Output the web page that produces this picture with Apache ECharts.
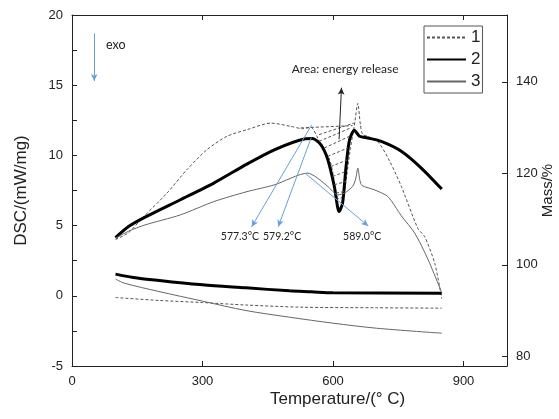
<!DOCTYPE html>
<html><head><meta charset="utf-8">
<script src="https://cdn.jsdelivr.net/npm/echarts@6/dist/echarts.min.js"></script>
<style>html,body{margin:0;padding:0;background:#fff}#c{width:559px;height:419px}</style>
</head><body><div id="c"></div>
<script>
// ---- data (temperature °C, value) ----
const seriesNames = ['1', '2', '3'];
const dsc1 = [[100,4.0],[130,4.5],[165,5.64],[218,7.3],[264,8.98],[310,10.4],[356,11.36],[403,11.84],[457,12.3],[503,12.07],[530,11.9],[549,12.0],[565,11.24],[576,10.5],[591,9.8],[600,8.7],[607,7.3],[613,6.9],[620,7.0],[626,7.4],[640,10.5],[649,12.1],[657,13.7],[663,12.2],[668,11.5],[680,11.36],[705,10.9],[730,9.6],[757,7.8],[795,4.8],[811,4.2],[834,2.3],[850,-0.2]];
const dsc2 = [[100,4.14],[130,4.93],[168,5.6],[249,6.84],[326,8.03],[403,9.4],[465,10.4],[534,11.17],[553,11.2],[572,10.76],[588,9.7],[603,7.8],[614,6.0],[622,6.6],[630,9.2],[638,11.1],[649,11.8],[661,11.36],[680,11.24],[711,11.0],[757,10.3],[803,9.1],[850,7.6]];
const dsc3 = [[100,4.1],[130,4.6],[168,5.05],[249,5.76],[326,6.71],[400,7.4],[465,7.9],[542,8.74],[561,8.46],[588,7.79],[611,7.19],[626,7.31],[645,7.79],[652,8.3],[657,9.1],[662,8.2],[667,7.85],[695,7.55],[726,7.07],[757,5.7],[788,4.46],[819,2.55],[849,0.29]];
const mass1 = [[100,92.84],[200,92.2],[300,91.74],[400,91.2],[526,90.73],[700,90.6],[850,90.51]];
const mass2 = [[100,97.96],[150,97.09],[200,96.56],[300,95.62],[400,94.96],[500,94.30],[550,94.09],[600,93.87],[850,93.8]];
const mass3 = [[100,96.87],[120,95.99],[200,94.15],[300,92.05],[400,89.99],[500,88.54],[600,87.23],[700,86.13],[850,85.04]];
// hatch lines of the energy-release area (start, end)
const hatchLines = [
  [[526,11.96],[645,12.12]],[[568,11.48],[649,12.31]],[[568,11.0],[641,11.96]],[[580,10.53],[638,11.36]],
  [[588,9.93],[634,10.53]],[[595,9.21],[634,9.69]],[[599,8.5],[630,8.86]],[[603,7.91],[630,8.14]],[[607,7.31],[626,7.43]]
];
// peak annotation arrows (from, to) and labels
const peakArrows = [[[551,12.17],[413,4.92]],[[550,11.27],[474,4.92]],[[536,8.73],[681,4.97]],[[51,18.7],[51,15.3]]];
const peakLabels = [[386,'577.3°C'],[483,'579.2°C'],[667,'589.0°C']];
const peakLabelY = 4.2;
const areaArrow = [[614,11.15],[619.5,14.82]];
const areaText = [628,16.15,'Area: energy release'];
const exoText = [78,17.86,'exo'];
const xTicks = [0,300,600,900];
const yLeftTicks = [-5,0,5,10,15,20];
const yRightTicks = [80,100,120,140];

const fam = 'Liberation Sans, Arial, sans-serif';
const tickFont = {color:'#222', fontSize:13, fontFamily:fam};
const blue = '#6a9fd8';

const chart = echarts.init(document.getElementById('c'), null, {renderer:'canvas'});
const axisLine = {show:true, onZero:false, lineStyle:{color:'#222', width:1}};
chart.setOption({
  animation:false,
  backgroundColor:'#fff',
  grid:{left:72, right:52, top:15, bottom:53, containLabel:false, outerBoundsMode:'none'},
  legend:{
    data:seriesNames, orient:'vertical', left:424, top:26, padding:[3,2,3,2],
    itemWidth:39, itemHeight:14, itemGap:5, borderColor:'#555', borderWidth:1,
    itemStyle:{color:'rgba(0,0,0,0)', borderWidth:0, opacity:0},
    textStyle:{fontSize:17, color:'#222', fontFamily:fam, lineHeight:16}
  },
  xAxis:[
    {type:'value', min:0, max:1000, position:'bottom', axisLine,
     axisTick:{show:true, inside:true, length:5, customValues:xTicks.slice(1), lineStyle:{color:'#222'}},
     axisLabel:{customValues:xTicks, margin:9, ...tickFont}, splitLine:{show:false}},
    {type:'value', min:0, max:1000, position:'top', axisLine,
     axisTick:{show:true, inside:true, length:5, customValues:xTicks.slice(1), lineStyle:{color:'#222'}},
     axisLabel:{show:false}, splitLine:{show:false}}
  ],
  yAxis:[
    {type:'value', min:-5, max:20, interval:5, position:'left', axisLine,
     name:'DSC/(mW/mg)', nameLocation:'middle', nameRotate:90, nameGap:42,
     nameTextStyle:{fontSize:17, color:'#222', fontFamily:fam},
     axisTick:{show:true, inside:true, length:5, lineStyle:{color:'#222'}},
     minorTick:{show:true, splitNumber:2, length:5, lineStyle:{color:'#222'}},
     axisLabel:{margin:9, ...tickFont, customValues:yLeftTicks}, splitLine:{show:false}},
    {type:'value', min:77.87, max:154.6, position:'right', axisLine,
     name:'Mass/%', nameLocation:'middle', nameRotate:90, nameGap:33, nameMoveOverlap:false,
     nameTextStyle:{fontSize:15, color:'#222', fontFamily:fam},
     axisTick:{show:true, inside:true, length:5, customValues:yRightTicks, lineStyle:{color:'#222'}},
     axisLabel:{margin:9, ...tickFont, customValues:yRightTicks}, splitLine:{show:false}}
  ],
  graphic:[{type:'text', left:270, top:391, style:{text:'Temperature/(° C)', fill:'#222', font:'17px Liberation Sans, Arial, sans-serif'}}],
  series:[
    {name:'1', type:'line', data:dsc1, symbol:'none', smooth:0.25, lineStyle:{color:'#555', width:1, type:[3,2]}, itemStyle:{color:'#555'},
     markLine:{silent:true, symbol:['none','none'], label:{show:false}, lineStyle:{color:'#555', width:1, type:[3,2]},
       data:hatchLines.map(s=>[{coord:s[0]},{coord:s[1]}])}},
    {name:'2', type:'line', data:dsc2, symbol:'none', smooth:0.25, lineStyle:{color:'#000', width:3}, itemStyle:{color:'#000'},
     markLine:{silent:true, symbol:['none','arrow'], symbolSize:[5,7], label:{show:false}, lineStyle:{color:blue, width:1, type:'solid'},
       data:peakArrows.map(s=>[{coord:s[0]},{coord:s[1]}])},
     markPoint:{silent:true, symbol:'circle', symbolSize:0,
       label:{show:true, color:'#222', fontSize:10.5, fontFamily:'Lato, Open Sans, sans-serif', formatter:p=>p.name},
       data:peakLabels.map(l=>({name:l[1], coord:[l[0],peakLabelY]}))
         .concat([{name:areaText[2], coord:[areaText[0],areaText[1]], label:{fontSize:12}},
                  {name:exoText[2], coord:[exoText[0],exoText[1]], label:{fontSize:12.5, align:'left'}}])}},
    {name:'3', type:'line', data:dsc3, symbol:'none', smooth:0.25, lineStyle:{color:'#666', width:1}, itemStyle:{color:'#666'},
     markLine:{silent:true, symbol:['none','arrow'], symbolSize:[5,7], label:{show:false}, lineStyle:{color:'#222', width:1, type:'solid'},
       data:[[{coord:areaArrow[0]},{coord:areaArrow[1]}]]}},
    {name:'1', type:'line', yAxisIndex:1, data:mass1, symbol:'none', smooth:0.3, lineStyle:{color:'#555', width:1, type:[3,2]}},
    {name:'2', type:'line', yAxisIndex:1, data:mass2, symbol:'none', smooth:0.3, lineStyle:{color:'#000', width:3}},
    {name:'3', type:'line', yAxisIndex:1, data:mass3, symbol:'none', smooth:0.3, lineStyle:{color:'#666', width:1}}
  ]
});
</script></body></html>
